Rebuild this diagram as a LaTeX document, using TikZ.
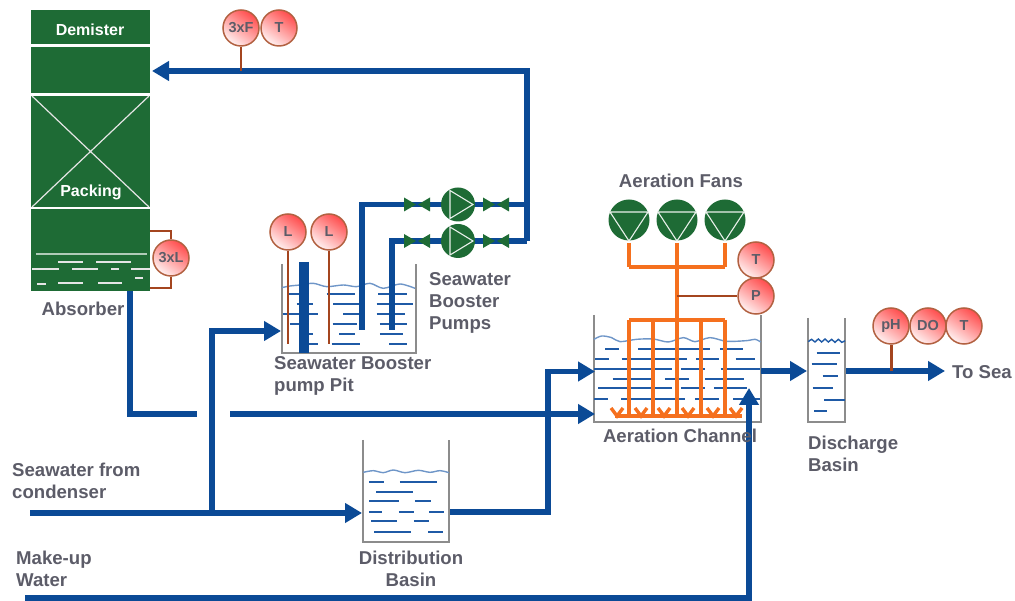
\documentclass[tikz,border=0pt]{standalone}
\usepackage{fontspec}
\setmainfont{Liberation Sans}
\usetikzlibrary{arrows.meta,calc}
\definecolor{pipeblue}{HTML}{0B4A96}
\definecolor{waterblue}{HTML}{1F5AA6}
\definecolor{wavelight}{HTML}{6F96C8}
\definecolor{absgreen}{HTML}{1E6B35}
\definecolor{lblgrey}{HTML}{5C5C68}
\definecolor{stembrown}{HTML}{A4451F}
\definecolor{tankgrey}{HTML}{8C8C8C}
\definecolor{airorange}{HTML}{F5701E}
\tikzset{
  pipe/.style={draw=pipeblue,line width=5.3pt,line join=miter},
  pipearrow/.style={pipe,-{Triangle[length=17pt,width=19pt]}},
  stem/.style={draw=stembrown,line width=2.4pt},
  bubble/.style={circle,draw=stembrown!85,line width=1.5pt,minimum size=36pt,inner sep=0pt,
    top color=red!70!white,bottom color=red!5!white,shading angle=-35,
    font=\bfseries\fontsize{14.5}{15}\selectfont,text=lblgrey},
  lbl/.style={inner sep=0pt,text=lblgrey,font=\bfseries\fontsize{18.6}{22}\selectfont,align=left},
  lblc/.style={lbl,align=center},
  wlbl/.style={inner sep=0pt,text=white,font=\bfseries\fontsize{16}{18}\selectfont},
  tankline/.style={draw=tankgrey,line width=1.6pt},
  tankbox/.style={inner sep=0pt,minimum width=#1},
  waterline/.style={draw=waterblue,line width=2.2pt},
  waveline/.style={draw=wavelight,line width=1.4pt},
  sect/.style={fill=absgreen,draw=none},
  air/.style={draw=airorange,line width=3.4pt,line join=miter},
  machine/.style={circle,fill=absgreen,draw=none,inner sep=0pt},
}
\begin{document}
\begin{tikzpicture}[x=1pt,y=-1pt]
\useasboundingbox (0,0) rectangle (1015,601);
% ---------- absorber
\fill[sect] (31,10) rectangle (150,44.5);
\fill[sect] (31,47) rectangle (150,93);
\fill[sect] (31,96) rectangle (150,207);
\fill[sect] (31,209) rectangle (150,291);
\draw[white!90!black,line width=1.2pt] (32,96) -- (149,207) (149,96) -- (32,207);
\node[wlbl] (demister) at (90,29.5) {Demister};
\node[wlbl] (packing) at (91,192) {Packing};
\draw[white!65!absgreen,line width=1.5pt] (36,254) -- (147,254);
\foreach \y/\a/\b in {262/58/83,262/96/131,269/32/59,269/72/98,269/111/119,269/131/150,278/135/143,283/58/83,283/98/122,284/37/46}
  \draw[white!90!black,line width=1.8pt] (\a,\y) -- (\b,\y);
\node[lblc] (absorber) at (83,309) {Absorber};
% ---------- pit
\node[tankbox=134pt,minimum height=89pt] (pit) at (349,308.5) {};
\draw[tankline] (pit.north west) -- (pit.south west) -- (pit.south east) -- (pit.north east);
\begin{scope}[shift={(260,170)},x=0.3333pt,y=-0.3333pt]
  \draw[waveline] plot[smooth] coordinates {(65,353)(90,348)(120,345)(160,340)(200,350)(250,345)(290,350)(330,340)(370,355)(420,342)(465,355)};
  \foreach \y/\a/\b in {372/85/125,372/200/285,372/355/440,402/110/160,402/220/305,402/350/460,432/68/175,432/250/300,432/350/435,463/90/120,463/218/290,463/360/440,493/120/160,493/238/285,493/360/428,523/130/175,523/215/300,523/388/440}
    \draw[waterline] (\a,\y) -- (\b,\y);
\end{scope}
\draw[draw=pipeblue,line width=10pt] (304,262) -- (304,353);
% ---------- distribution basin
\node[tankbox=86pt,minimum height=102pt] (dist) at (406,491) {};
\draw[tankline] (dist.north west) -- (dist.south west) -- (dist.south east) -- (dist.north east);
\begin{scope}[shift={(340,430)},x=0.3333pt,y=-0.3333pt]
  \draw[waveline] plot[smooth] coordinates {(70,127)(100,122)(130,128)(160,120)(195,128)(235,121)(270,127)(300,122)(327,128)};
  \foreach \y/\a/\b in {155/88/133,155/180/290,185/108/218,212/88/177,212/225/272,247/88/127,247/177/222,247/268/313,273/93/172,273/222/268,306/103/213,306/265/310}
    \draw[waterline] (\a,\y) -- (\b,\y);
\end{scope}
% ---------- aeration channel
\node[tankbox=167pt,minimum height=107pt] (chan) at (677.5,368.5) {};
\draw[tankline] (chan.north west) -- (chan.south west) -- (chan.south east) -- (chan.north east);
\begin{scope}[shift={(570,170)},x=0.3333pt,y=-0.3333pt]
  \draw[waveline] plot[smooth] coordinates {(72,508)(95,498)(125,503)(150,515)(200,508)(250,507)(295,516)(340,503)(375,515)(420,503)(470,514)(530,512)(555,508)(572,516)};
  \foreach \y/\a/\b in {538/105/148,538/205/420,538/450/520,566/75/118,566/155/350,566/378/448,566/497/555,597/72/305,597/333/405,597/452/570,627/128/255,627/285/358,627/405/522,655/85/305,655/333/405,655/432/530,688/72/115,688/153/345,688/375/447,688/490/570}
    \draw[waterline] (\a,\y) -- (\b,\y);
\end{scope}
% ---------- discharge basin
\node[tankbox=37pt,minimum height=104pt] (disch) at (826.5,370) {};
\draw[tankline] (disch.north west) -- (disch.south west) -- (disch.south east) -- (disch.north east);
\begin{scope}[shift={(790,300)},x=0.3333pt,y=-0.3333pt]
  \draw[waveline,draw=waterblue] plot[smooth] coordinates {(55,125)(65,118)(75,126)(85,117)(95,126)(105,117)(115,126)(125,118)(135,127)(145,118)(155,127)(165,122)};
  \foreach \y/\a/\b in {160/80/150,192/65/140,229/98/143,263/68/128,300/103/165,332/72/112}
    \draw[waterline] (\a,\y) -- (\b,\y);
\end{scope}
% ---------- free pipe ends
\coordinate (absIn) at (152,71);
\coordinate (riserTop) at (527,71);
\coordinate (riserBot) at (527,241);
\coordinate (hdrA) at (527,204.5);
\coordinate (suctA) at (362,330);
\coordinate (suctB) at (392,330);
\coordinate (absOut) at (130,291);
\coordinate (gapL) at (197,414);
\coordinate (gapR) at (230,414);
\coordinate (chanInB) at (595,414);
\coordinate (chanInA) at (595,371.5);
\coordinate (condenser) at (30,513);
\coordinate (tee) at (212,513);
\coordinate (pitIn) at (281,331);
\coordinate (distIn) at (362,513);
\coordinate (distOut) at (450,512);
\coordinate (makeup) at (25,598);
\coordinate (makeupEnd) at (749,388);
\coordinate (chanOut) at (761,371);
\coordinate (dischIn) at (807,371);
\coordinate (dischOut) at (846,371);
\coordinate (toSea) at (945,371);
% ---------- pipes
\draw[pipearrow] (riserBot) -- (riserTop) -- (absIn);
\draw[pipe] (suctA) |- (hdrA);
\draw[pipe] (suctB) |- (riserBot);
\draw[pipe] (absOut) |- (gapL);
\draw[pipearrow] (gapR) -- (chanInB);
\draw[pipearrow] (condenser) -- (distIn);
\draw[pipearrow] (tee) |- (pitIn);
\draw[pipearrow] (distOut) -| (548,371.5) -- (chanInA);
\draw[pipearrow] (makeup) -| (makeupEnd);
\draw[pipearrow] (chanOut) -- (dischIn);
\draw[pipearrow] (dischOut) -- (toSea);
% ---------- pumps and valves
\foreach \n/\y in {pumpA/204.5,pumpB/241}{
  \node[machine,minimum size=34pt] (\n) at (458,\y) {};
  \draw[white!90!absgreen,line width=1.1pt] ($(\n)+(-8,-14)$) -- ($(\n)+(15,0)$) -- ($(\n)+(-8,14)$) -- cycle;
  \foreach \a/\b in {404/416,430/418,483/495,509/497}
    \fill[absgreen] (\a,\y-7) -- (\b,\y) -- (\a,\y+7) -- cycle;
}
% ---------- fans and air
\foreach \n/\x in {fanA/629,fanB/677,fanC/725}{
  \draw[air] (\x,243) -- (\x,267);
  \node[machine,minimum size=41pt] (\n) at (\x,220) {};
  \draw[white!90!absgreen,line width=1.1pt] ($(\n)+(-19,-8)$) -- ($(\n)+(19,-8)$) -- ($(\n)+(0,21)$) -- cycle;
}
\draw[air] (629,267) -- (725,267);
\draw[air] (677,243) -- (677,416);
\draw[air] (629,320) -- (725,320);
\foreach \x in {629,653,701,725} \draw[air] (\x,320) -- (\x,416);
\draw[air] (615,416) -- (742,416);
\foreach \x in {617,641,664,688,713,736}
  \draw[air] (\x-6,408) -- (\x,416) -- (\x+6,408);
% ---------- instruments
\node[bubble] (f3) at (241,28) {3xF};
\node[bubble] (t1) at (279,28) {T};
\node[bubble] (l3) at (171,258) {3xL};
\node[bubble] (la) at (288,232) {L};
\node[bubble] (lb) at (329,232) {L};
\node[bubble] (t2) at (756,260) {T};
\node[bubble] (p1) at (756,296) {P};
\node[bubble] (ph) at (891,326) {pH};
\node[bubble] (do) at (928,326) {DO};
\node[bubble] (t3) at (964,326) {T};
\draw[stem] (f3) -- (241,71);
\draw[stem] (l3) |- (150,231);
\draw[stem] (l3) |- (150,288);
\draw[stem] (la) -- (288,344);
\draw[stem] (lb) -- (329,344);
\draw[stem] (p1) -- (677,296);
\draw[stem,line width=3pt] (ph) -- (891,371);
% ---------- labels
\node[lblc] (fans) at (681,181) {Aeration Fans};
\node[lbl,anchor=north west] (pumps) at (429,272) {Seawater\\Booster\\Pumps};
\node[lbl,anchor=north west] (pitlbl) at (274,356) {Seawater Booster\\pump Pit};
\node[lblc] (chanlbl) at (680,436) {Aeration Channel};
\node[lbl,anchor=north west] (disclbl) at (808,436) {Discharge\\Basin};
\node[lbl,anchor=west] (sea) at (952,372) {To Sea};
\node[lblc,anchor=north] (distlbl) at (411,551) {Distribution\\Basin};
\node[lbl,anchor=north west] (condlbl) at (12,463) {Seawater from\\condenser};
\node[lbl,anchor=north west] (mulbl) at (16,551) {Make-up\\Water};
\end{tikzpicture}
\end{document}
